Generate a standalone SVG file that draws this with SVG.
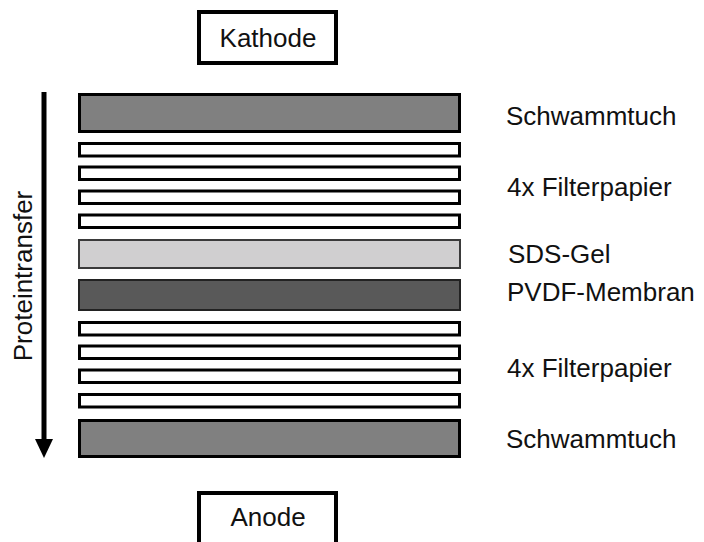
<svg xmlns="http://www.w3.org/2000/svg" width="704" height="542" viewBox="0 0 704 542">
  <style>
    text { font-family: "Liberation Sans", Arial, sans-serif; font-size: 26px; fill: #111; }
    .box { fill: #fff; stroke: #000; stroke-width: 4; }
    .sponge { fill: #808080; stroke: #000; stroke-width: 3; }
    .filter { fill: #fff; stroke: #000; stroke-width: 3; }
    .gel { fill: #d0cfd0; stroke: #3a3a3a; stroke-width: 2; }
    .membrane { fill: #595959; stroke: #222; stroke-width: 2; }
  </style>
  <rect width="704" height="542" fill="#fff"/>

  <g id="kathode">
    <rect class="box" x="199" y="12" width="137" height="51"/>
    <text x="268" y="47" text-anchor="middle">Kathode</text>
  </g>

  <g id="anode">
    <rect class="box" x="199" y="493" width="137" height="60"/>
    <text x="268" y="526" text-anchor="middle">Anode</text>
  </g>

  <g id="connectors">
    <line x1="44" y1="92" x2="44" y2="441" stroke="#000" stroke-width="5"/>
    <polygon points="35,439 53,439 44,458" fill="#000"/>
  </g>

  <g id="proteintransfer">
    <text transform="translate(32,276) rotate(-90)" text-anchor="middle">Proteintransfer</text>
  </g>

  <g id="schwammtuch-oben">
    <rect class="sponge" x="79.5" y="94.5" width="380" height="37"/>
    <text x="506" y="125">Schwammtuch</text>
  </g>

  <g id="filterpapier-oben">
    <rect class="filter" x="79.5" y="143.5" width="380" height="12.5"/>
    <rect class="filter" x="79.5" y="167" width="380" height="12.5"/>
    <rect class="filter" x="79.5" y="191" width="380" height="12.5"/>
    <rect class="filter" x="79.5" y="215" width="380" height="12.5"/>
    <text x="507" y="196">4x Filterpapier</text>
  </g>

  <g id="sds-gel">
    <rect class="gel" x="79" y="240" width="381" height="28"/>
    <text x="508" y="263">SDS-Gel</text>
  </g>

  <g id="pvdf-membran">
    <rect class="membrane" x="79" y="280" width="381" height="30"/>
    <text x="507" y="301">PVDF-Membran</text>
  </g>

  <g id="filterpapier-unten">
    <rect class="filter" x="79.5" y="322.5" width="380" height="12.5"/>
    <rect class="filter" x="79.5" y="346" width="380" height="12.5"/>
    <rect class="filter" x="79.5" y="370" width="380" height="12.5"/>
    <rect class="filter" x="79.5" y="394.5" width="380" height="12.5"/>
    <text x="507" y="377">4x Filterpapier</text>
  </g>

  <g id="schwammtuch-unten">
    <rect class="sponge" x="79.5" y="420.5" width="380" height="36"/>
    <text x="506" y="448">Schwammtuch</text>
  </g>
</svg>
